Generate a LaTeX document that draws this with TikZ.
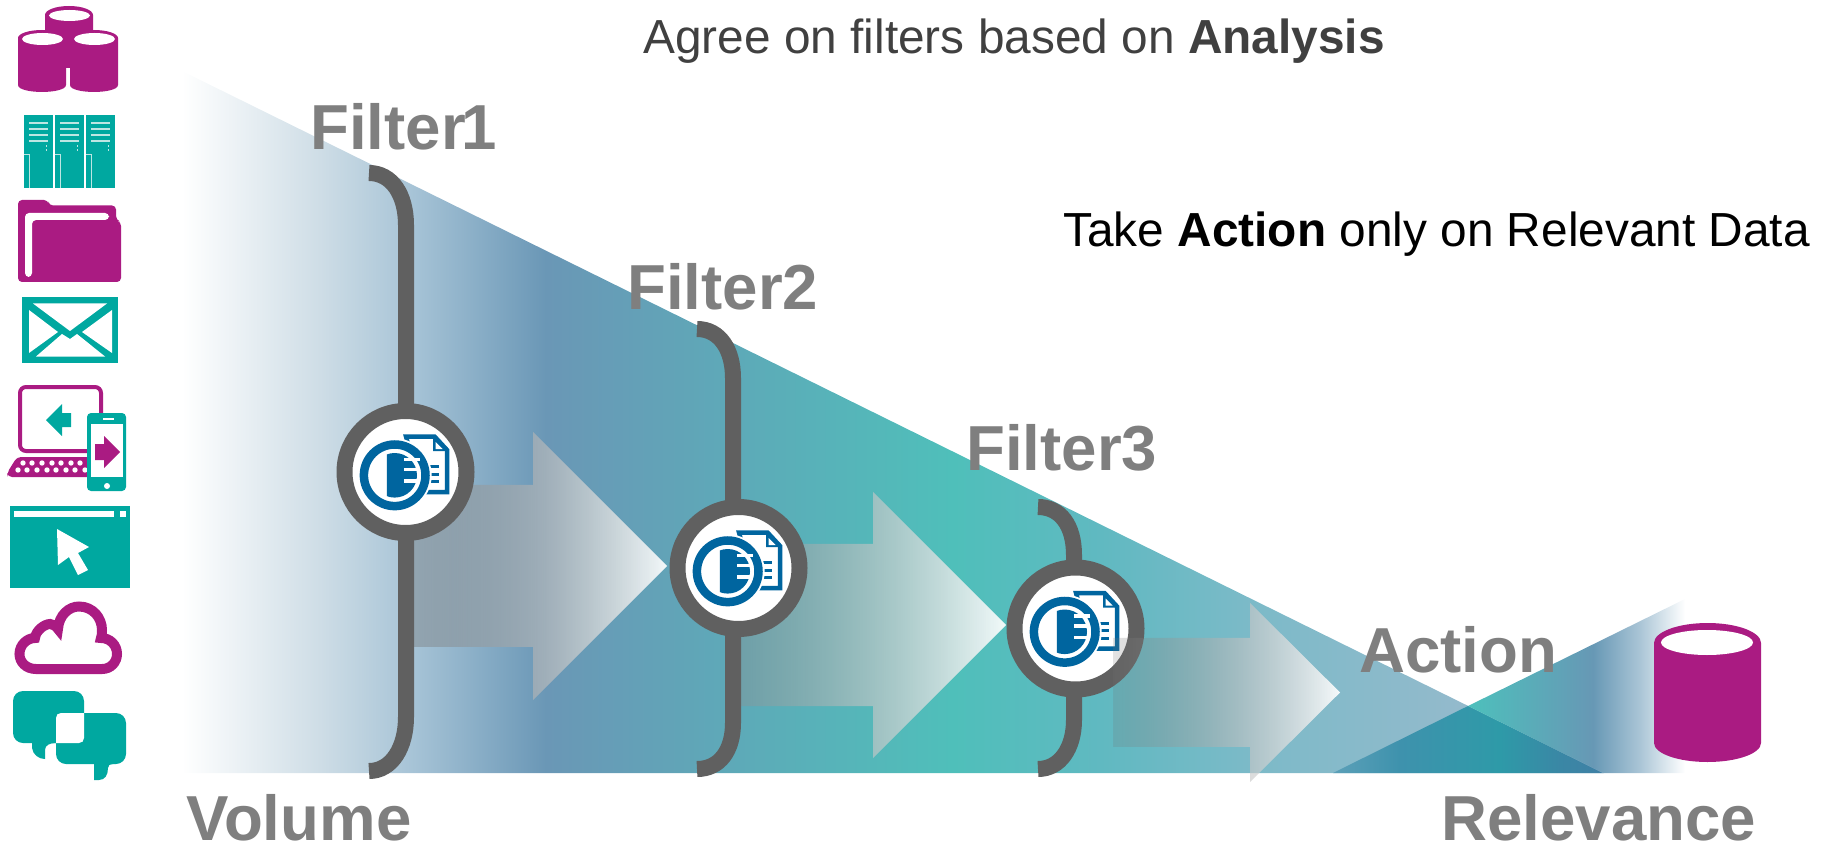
\documentclass[tikz,border=0pt]{standalone}
\usepackage{fontspec}
\setmainfont{Liberation Sans}
\usetikzlibrary{fadings}
\definecolor{mag}{HTML}{AA1B82}
\definecolor{tealc}{HTML}{00A8A0}
\definecolor{lite}{HTML}{BDE6E3}
\definecolor{ringc}{HTML}{606060}
\definecolor{iconb}{HTML}{00659F}
\definecolor{labelc}{HTML}{7F7F7F}
\definecolor{topc}{HTML}{404040}
\definecolor{aa}{HTML}{CEDDE6}\definecolor{ab}{HTML}{A6C3D6}\definecolor{ac}{HTML}{6A97B6}
\definecolor{ad}{HTML}{4FBFBA}\definecolor{ae}{HTML}{60B9C1}\definecolor{af}{HTML}{7CBAC8}
\definecolor{ag}{HTML}{94BACC}\definecolor{ah}{HTML}{96BBCE}
\definecolor{ba}{HTML}{4DC0BC}\definecolor{bb}{HTML}{6798B5}\definecolor{bc}{HTML}{AAC5D6}
\definecolor{ca}{HTML}{5CA0B8}\definecolor{cb}{HTML}{3E92AD}\definecolor{cc}{HTML}{2E9AA8}\definecolor{cd}{HTML}{3A87A5}\definecolor{ce}{HTML}{4080A5}
\pgfdeclarehorizontalshading{bigtri}{100bp}{color(0bp)=(white); color(25bp)=(white); color(29.85bp)=(aa); color(33.16bp)=(ab); color(37.8bp)=(ac); color(52.1bp)=(ad); color(57.3bp)=(ae); color(62.55bp)=(af); color(70.2bp)=(ag); color(75bp)=(ah); color(100bp)=(ah)}
\pgfdeclarehorizontalshading{smalltri}{100bp}{color(0bp)=(ba); color(25bp)=(ba); color(53.8bp)=(bb); color(64.6bp)=(bc); color(75bp)=(white); color(100bp)=(white)}
\pgfdeclarehorizontalshading{overlaptri}{100bp}{color(0bp)=(ca); color(25bp)=(ca); color(37.4bp)=(cb); color(55.9bp)=(cc); color(67bp)=(cd); color(75bp)=(ce); color(100bp)=(ce)}
\tikzfading[name=fadestrong, left color=transparent!65, right color=transparent!8]
\tikzfading[name=fadeweak, left color=transparent!80, right color=transparent!8]
\tikzset{
  stem/.style={draw=ringc,line width=8pt,line cap=butt},
  ringnode/.style={circle,draw=ringc,fill=white,line width=8pt,minimum size=61pt,inner sep=0pt},
  biglabel/.style={anchor=base west,inner sep=0pt,text=labelc,font=\bfseries\fontsize{31.8}{36}\selectfont},
  toplabel/.style={anchor=base west,inner sep=0pt,font=\fontsize{23.9}{28}\selectfont},
  magfill/.style={fill=mag,draw=none},
  tealfill/.style={fill=tealc,draw=none},
  whitefill/.style={fill=white,draw=none},
  litefill/.style={fill=lite,draw=none},
}
\newcommand{\filtericon}[2]{%
\begin{scope}[shift={(#1,#2)}]
  \draw[iconb,fill=white,line width=2.25pt,line join=miter] (0.5,-35.5)--(29,-35.5)--(41.5,-22)--(41.5,20)--(15,20)--cycle;
  \fill[iconb] (27.5,-36)--(43,-21)--(27.5,-21)--cycle;
  \fill[white] (30,-30)--(30,-23)--(37,-23)--cycle;
  \foreach \yy in {-5.5,2,9.5}{\fill[iconb] (20,\yy-1.5) rectangle (33,\yy+1.5);}
  \fill[white] (-10.8,3.3) circle[radius=37];
  \draw[iconb,line width=4.25pt] (-10.8,3.3) circle[radius=30.8];
  \begin{scope}
    \clip (-18.7,-30) rectangle (20,35);
    \fill[iconb] (-10.8,3.3) circle[radius=22.3];
  \end{scope}
  \foreach \yy in {-12.5,-2.5,9}{\fill[white] (-2,\yy-1.6) rectangle (14,\yy+1.6);}
\end{scope}}
\begin{document}
\begin{tikzpicture}[x=0.5pt,y=-0.5pt]
\useasboundingbox (0,0) rectangle (1826,845);
% big wedge and small wedge
\shade[shading=bigtri] (182,71)--(1604,773)--(182,773)--cycle;
\shade[shading=overlaptri] (1333,773)--(1468,706)--(1603,773)--cycle;
\shade[shading=smalltri] (1468,706)--(1685,599)--(1685,773)--(1603,773)--cycle;
% flow arrows behind the brackets
\shade[left color=black!58,right color=white,path fading=fadestrong] (400,485)--(533,485)--(533,432)--(667,566)--(533,700)--(533,647)--(400,647)--cycle;
\shade[left color=black!45,right color=white,path fading=fadestrong] (733,544)--(873,544)--(873,492)--(1006,625)--(873,758)--(873,706)--(733,706)--cycle;
% brackets
\draw[stem] (369,173) .. controls (392,173) and (406,195) .. (406,225) -- (406,717) .. controls (406,747) and (392,771) .. (369,771);
\draw[stem] (697,329) .. controls (720,329) and (733,350) .. (733,378) -- (733,723) .. controls (733,750) and (720,769) .. (697,769);
\draw[stem] (1038,507) .. controls (1060,507) and (1074,525) .. (1074,555) -- (1074,720) .. controls (1074,748) and (1060,769) .. (1038,769);
% rings
\node[ringnode] (ringa) at (405.5,472) {};
\node[ringnode] (ringb) at (738.5,568) {};
\node[ringnode] (ringc) at (1075.5,628.5) {};
\filtericon{405.5}{472}
\filtericon{738.5}{568}
\filtericon{1075.5}{628.5}
% third arrow lies over its ring
\shade[left color=black!55,right color=white,path fading=fadeweak] (1113,638)--(1250,638)--(1250,603)--(1340,692.5)--(1250,782)--(1250,747)--(1113,747)--cycle;
% labels
\node[toplabel,text=topc] (agree) at (643,54) {Agree on filters based on \textbf{Analysis}};
\node[toplabel,text=black] (take) at (1063,247) {Take \textbf{Action} only on Relevant Data};
\node[biglabel] (fa) at (310,150) {Filter\kern-2pt 1};
\node[biglabel] (fb) at (627,309) {Filter2};
\node[biglabel] (fc) at (966,470) {Filter3};
\node[biglabel] (act) at (1359,672) {Action};
\node[biglabel] (vol) at (186,840) {Volume};
\node[biglabel] (rel) at (1441,840) {Relevance};
% databases
\fill[magfill] (45,15) arc[start angle=180,end angle=360,x radius=24,y radius=9] -- (93,68) -- (45,68) -- cycle;
\foreach \cx in {42,94}{
  \fill[magfill] (\cx-24,38) arc[start angle=180,end angle=360,x radius=24,y radius=8] -- (\cx+24,85) .. controls (\cx+24,90) and (\cx+10,92) .. (\cx,92) .. controls (\cx-10,92) and (\cx-24,90) .. (\cx-24,85) -- cycle;
}
\fill[whitefill] (69.5,15.5) ellipse[x radius=20.5,y radius=5.5];
\fill[whitefill] (42.5,39) ellipse[x radius=20.5,y radius=6];
\fill[whitefill] (94.5,39) ellipse[x radius=20.5,y radius=6];
% lockers
\foreach \lx/\lw in {24/28.5,55/28.5,86/29}{
  \fill[tealfill] (\lx,115) rectangle (\lx+\lw,188);
  \foreach \ly in {123,129,135,141}{\fill[litefill] (\lx+5,\ly-1) rectangle (\lx+24,\ly+1);}
  \fill[litefill] (\lx+21.5,145) rectangle (\lx+23,147);
  \fill[litefill] (\lx+21.5,149) rectangle (\lx+23,151);
  \draw[lite,line width=0.7pt] (\lx,154.5)--(\lx+5.5,154.5)--(\lx+5.5,188);
}
% folder
\fill[magfill,rounded corners=2pt] (18,282)--(18,200)--(48,200)--(49,205.5)--(116,205.5)--(116,220)--(121,222)--(121,282)--cycle;
\fill[whitefill,rounded corners=2pt] (25,277)--(25,213)--(109,213)--(109,220)--(32,220)--(32,277)--cycle;
% envelope
\fill[tealfill] (22,297) rectangle (118,363);
\fill[whitefill] (33,303.5)--(107,303.5)--(70,331)--cycle;
\fill[whitefill] (29,310)--(29,353)--(58,332)--cycle;
\fill[whitefill] (112,310)--(112,353)--(82,332)--cycle;
\fill[whitefill] (36,356.5)--(105,356.5)--(77,334)--(70,339)--(62,334)--cycle;
% laptop
\draw[mag,line width=2pt,rounded corners=3pt] (20,387) rectangle (101,451);
\fill[magfill,rounded corners=2pt] (17,457)--(95,457)--(95,477)--(8,477)--(7,473)--cycle;
\foreach \dx in {23,32,42,52,61,71,80}{\fill[whitefill] (\dx,463) circle[radius=2.7];}
\foreach \dx in {18,27,37,47,56,66,75,85}{\fill[whitefill] (\dx,470) circle[radius=2.7];}
\fill[tealfill] (46,420)--(62,404)--(62,413)--(71,413)--(71,427)--(62,427)--(62,436)--cycle;
% phone
\fill[tealfill,rounded corners=2pt] (87,413) rectangle (126,491);
\fill[whitefill] (91,424) rectangle (123,477);
\fill[whitefill] (103,418.2) rectangle (114,419.8);
\fill[whitefill] (107,486) circle[radius=3];
\fill[magfill] (95,444)--(104,444)--(104,436)--(120,452)--(104,468)--(104,460)--(95,460)--cycle;
% browser
\fill[tealfill] (10,506) rectangle (130,588);
\fill[whitefill] (14,511) rectangle (114,517);
\fill[whitefill] (120,511) rectangle (126,517);
\fill[whitefill] (57,529)--(89,547)--(78,553)--(88,570)--(78,575)--(69,557)--(58,565)--cycle;
% cloud
\draw[mag,line width=5pt,line join=miter] (36,669) .. controls (26,669) and (19.5,662) .. (19.5,654) .. controls (19.5,645) and (27,638) .. (35,638) .. controls (36,630) and (45,624) .. (50,624) .. controls (53,624) and (56,626) .. (58,629) .. controls (59,615) and (69,606.5) .. (79,606.5) .. controls (93,606.5) and (102,618) .. (102,630) .. controls (102,633) and (102,636) .. (101,638) .. controls (110,638) and (117,645) .. (117,654) .. controls (117,662) and (111,669) .. (102,669) -- cycle;
% chat bubbles
\fill[tealfill,rounded corners=5pt] (13,691) rectangle (84,743);
\fill[tealfill] (32,740)--(32,748) .. controls (33,755) and (39,759) .. (45,759) -- (45,750) .. controls (45,745) and (50,743) .. (56,743) -- (56,740) -- cycle;
\fill[tealfill,rounded corners=5pt] (56,713) rectangle (126,764);
\fill[tealfill] (94,760)--(94,780)--(99,780) .. controls (105,780) and (108,775) .. (108,768) .. controls (108,765) and (110,764) .. (113,764)--(113,760)--cycle;
\fill[whitefill] (56,743)--(56,718) .. controls (56,715) and (58,713) .. (61,713) -- (84,713) -- (84,738) .. controls (84,741) and (82,743) .. (79,743) -- cycle;
% target cylinder
\fill[magfill] (1654,643) arc[start angle=180,end angle=360,x radius=53.5,y radius=20] -- (1761,743) arc[start angle=0,end angle=180,x radius=53.5,y radius=19] -- cycle;
\fill[whitefill] (1707,642.5) ellipse[x radius=46,y radius=12.5];
\end{tikzpicture}
\end{document}
